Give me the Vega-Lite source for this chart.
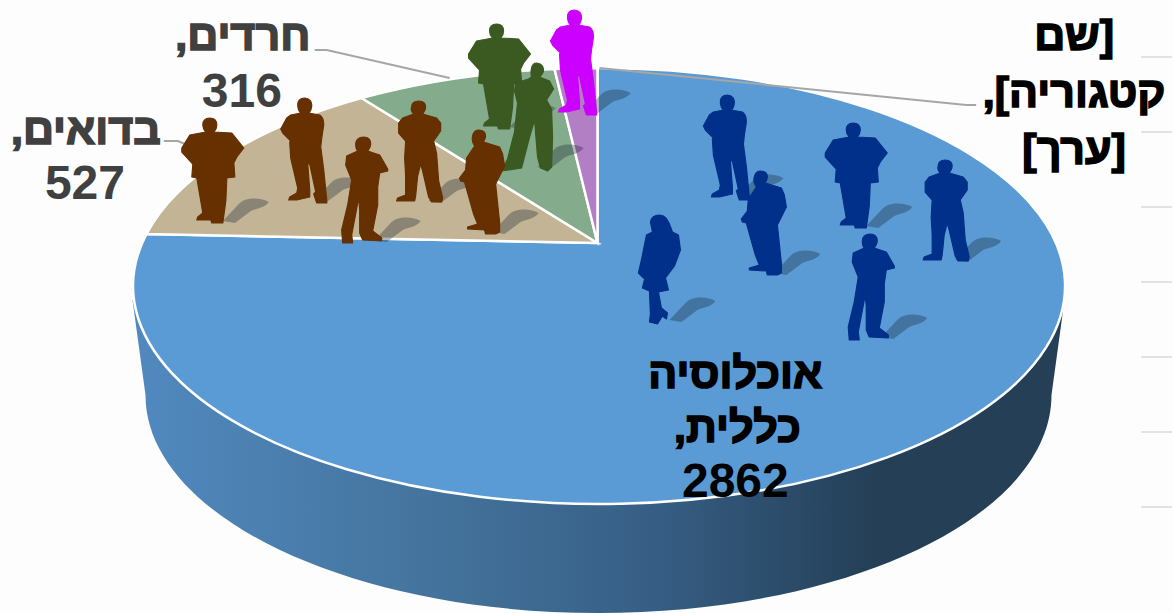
{
"$schema":"https://vega.github.io/schema/vega-lite/v6.json",
"width":1173,"height":613,
"autosize":{"type":"fit","contains":"padding"},
"padding":0,
"background":"#fdfdfd",
"config":{"view":{"stroke":null}},
"datasets":{
"slices":[
{"category":"אוכלוסיה כללית","value":2862,"x":598,"y":243},
{"category":"בדואים","value":527,"x":598,"y":243},
{"category":"חרדים","value":316,"x":598,"y":243},
{"category":"אחר","value":100,"x":598,"y":243}
],
"people":[
{"group":"blue","pose":"A","x":728,"y":147},
{"group":"blue","pose":"C","x":765,"y":223},
{"group":"blue","pose":"B","x":857,"y":176},
{"group":"blue","pose":"A2","x":946,"y":210},
{"group":"blue","pose":"A3","x":872,"y":287},
{"group":"blue","pose":"W","x":660,"y":270},
{"group":"brown","pose":"B","x":213,"y":171},
{"group":"brown","pose":"A","x":305,"y":150},
{"group":"brown","pose":"A3","x":365,"y":190},
{"group":"brown","pose":"A2","x":419,"y":151},
{"group":"green","pose":"B","x":500,"y":77},
{"group":"green","pose":"W2","x":528,"y":117},
{"group":"brown","pose":"C","x":483,"y":182},
{"group":"magenta","pose":"A","x":575,"y":62}
],
"leaders":[
{"s":"a","o":1,"x":600,"y":68},{"s":"a","o":2,"x":967,"y":105},{"s":"a","o":3,"x":977,"y":105},
{"s":"b","o":1,"x":315,"y":50},{"s":"b","o":2,"x":327,"y":50},{"s":"b","o":3,"x":450,"y":78},
{"s":"c","o":1,"x":164,"y":141},{"s":"c","o":2,"x":178,"y":141},{"s":"c","o":3,"x":190,"y":146}
],
"grid":[
{"x":1142,"x2":1173,"y":57},{"x":1142,"x2":1173,"y":132},{"x":1142,"x2":1173,"y":207},{"x":1142,"x2":1173,"y":282},{"x":1142,"x2":1173,"y":357},{"x":1142,"x2":1173,"y":432},{"x":1142,"x2":1173,"y":507}
],
"labels":[
{"t":"\u200f[שם\u200f","x":1075,"y":50,"tone":"black","script":"he"},
{"t":"\u200fקטגוריה],\u200f","x":1075,"y":107,"tone":"black","script":"he"},
{"t":"\u200f[ערך]\u200f","x":1075,"y":164,"tone":"black","script":"he"},
{"t":"\u200fחרדים,\u200f","x":243,"y":50,"tone":"grey","script":"he"},
{"t":"316","x":242,"y":107,"tone":"grey","script":"num"},
{"t":"\u200fבדואים,\u200f","x":86,"y":144,"tone":"grey","script":"he"},
{"t":"527","x":85,"y":199,"tone":"grey","script":"num"},
{"t":"\u200fאוכלוסיה\u200f","x":736,"y":388,"tone":"black","script":"he"},
{"t":"\u200fכללית,\u200f","x":738,"y":442,"tone":"black","script":"he"},
{"t":"2862","x":736,"y":497,"tone":"black","script":"num"}
]
},
"encoding":{
"x":{"field":"x","type":"quantitative","scale":{"domain":[0,1173],"nice":false,"zero":false},"axis":null},
"y":{"field":"y","type":"quantitative","scale":{"domain":[0,613],"reverse":true,"nice":false,"zero":false},"axis":null}
},
"layer":[
{"data":{"name":"grid"},"mark":{"type":"rule","color":"#d9d9d9","strokeWidth":1.5},
 "encoding":{"x2":{"field":"x2"}}},
{"data":{"name":"slices"},"transform":[{"filter":"datum.value==2862"}],
 "mark":{"type":"point","filled":true,"opacity":1,"size":4,"strokeWidth":0,
 "shape":"M-465,57 L-452,152 A453,218 0 0 0 454,152 L467,57 Z",
 "color":{"gradient":"linear","x1":0,"x2":1,"y1":0,"y2":0,"stops":[{"offset":0,"color":"#5189bf"},{"offset":0.3,"color":"#45759f"},{"offset":0.55,"color":"#375f86"},{"offset":0.8,"color":"#243f56"},{"offset":1,"color":"#243f56"}]}}},
{"data":{"name":"slices"},
 "mark":{"type":"point","filled":true,"opacity":1,"size":4,"stroke":"#ffffff","strokeWidth":2.5},
 "encoding":{
  "shape":{"field":"category","type":"nominal","legend":null,"scale":{"domain":["אוכלוסיה כללית","בדואים","חרדים","אחר"],"range":[
   "M0,0 L0,-175 A466,218 0 1 1 -451,-9 Z",
   "M0,0 L-451,-9 A466,218 0 0 1 -236,-145 Z",
   "M0,0 L-236,-145 A466,218 0 0 1 -43,-174 Z",
   "M0,0 L-43,-174 A466,218 0 0 1 0,-175 Z"]}},
  "color":{"field":"category","type":"nominal","legend":null,"scale":{"domain":["אוכלוסיה כללית","בדואים","חרדים","אחר"],"range":["#5b9bd5","#c3b496","#84ac8c","#b27fc4"]}}
 }},
{"data":{"name":"people"},
 "mark":{"type":"point","filled":true,"size":4,"fill":"#14202e","fillOpacity":0.32,"opacity":1,"strokeWidth":0,
 "shape":"M10,50 L26,33 C32,26 48,26 56,31 C52,37 44,37 38,40 L22,52 Z"}},
{"data":{"name":"leaders"},"mark":{"type":"line","color":"#a6a6a6","strokeWidth":2},
 "encoding":{"detail":{"field":"s"},"order":{"field":"o"}}},
{"data":{"name":"people"},
 "mark":{"type":"point","filled":true,"opacity":1,"size":4,"strokeWidth":1.2,"strokeJoin":"round"},
 "encoding":{
  "shape":{"field":"pose","type":"nominal","legend":null,"scale":{"domain":["A","A2","A3","B","C","W","W2"],"range":[
   "M0,-52 C5,-52 7,-48 7,-45 C7,-41 5,-38 4,-37 L15,-35 C18,-33 19,-30 19,-25 L17,-12 L16,-3 L19,20 L22,50 L22,53 L12,53 L9,44 L11,42 L5,14 L3,14 L5,40 L5,47 L-8,50 L-16,50 L-15,47 L-8,43 L-7,38 L-14,8 L-15,-8 L-14,-9 L-22,-17 L-24,-21 L-18,-32 L-14,-35 L-4,-37 C-6,-39 -7,-42 -7,-45 C-7,-49 -5,-52 0,-52 Z",
   "M0,-50 C5,-50 7,-47 7,-44 C7,-41 5,-39 4,-37 L18,-33 L22,-28 L22,-20 L15,-10 L18,3 L20,30 L24,47 L23,51 L13,51 L10,46 L4,20 L2,13 L-1,25 L-3,45 L-4,50 L-22,50 L-21,47 L-13,44 L-13,25 L-14,7 L-13,-10 L-20,-18 L-20,-28 L-16,-33 L-5,-37 C-7,-39 -8,-41 -7,-44 C-7,-47 -5,-50 0,-50 Z",
   "M-1,-53 C4,-53 6,-50 6,-46 C6,-43 4,-41 3,-39 L15,-35 L23,-21 L23,-19 L15,-17 L13,-3 L13,15 L8,41 L17,48 L17,51 L-2,50 L-5,43 L-5,20 L-6,8 L-13,45 L-12,53 L-22,53 L-23,40 L-17,15 L-13,-10 L-19,-25 L-18,-34 L-7,-39 C-9,-41 -9,-43 -9,-46 C-9,-50 -6,-53 -1,-53 Z",
   "M-3,-53 C2,-53 4,-50 4,-46 C4,-42 2,-40 1,-39 L19,-38 L31,-23 L24,-14 L21,-8 L22,6 L14,7 L13,30 L10,52 L-1,52 L-2,49 L-16,49 L-15,46 L-10,42 L-16,7 L-21,6 L-20,-7 L-31,-19 L-31,-23 L-23,-36 L-7,-39 C-9,-41 -10,-43 -10,-46 C-10,-50 -8,-53 -3,-53 Z",
   "M-4,-52 C1,-52 3,-49 3,-46 C3,-43 1,-41 1,-40 L17,-35 L20,-28 L22,-16 L14,0 L13,2 L17,40 L17,50 L13,52 L3,52 L2,48 L-15,47 L-15,45 L-5,42 L-9,32 L-18,0 L-22,-1 L-23,-4 L-17,-12 L-16,-24 L-8,-36 L-10,-40 C-11,-44 -10,-52 -4,-52 Z",
   "M0,-55 C6,-55 8,-50 10,-46 L13,-38 L19,-35 L21,-20 L15,-4 L6,8 L9,20 L-1,22 L2,38 L8,43 L7,49 L3,46 L-2,54 L-10,52 L-9,44 L-10,21 L-17,18 L-14,6 L-16,8 L-21,3 L-18,-10 L-13,-35 L-7,-38 L-9,-48 C-8,-53 -5,-55 0,-55 Z",
   "M9,-54 C14,-54 16,-50 16,-47 C16,-44 14,-42 12,-40 L22,-36 L26,-28 L19,-17 L24,-8 L25,20 L24,50 L20,54 L13,51 L10,40 L7,3 L2,20 L-6,51 L-26,54 L-20,42 L-13,15 L-10,-14 L-13,-26 L-12,-34 L1,-38 L4,-40 C3,-44 3,-54 9,-54 Z"]}},
  "fill":{"field":"group","type":"nominal","legend":null,"scale":{"domain":["blue","brown","green","magenta"],"range":["#00308a","#663000","#3a5a22","#cc00ff"]}},
  "stroke":{"field":"group","type":"nominal","legend":null,"scale":{"domain":["blue","brown","green","magenta"],"range":["#00308a","#663000","#3a5a22","#cc00ff"]}}
 }},
{"data":{"name":"labels"},"transform":[{"filter":"datum.script=='he'"}],
 "mark":{"type":"text","font":"Liberation Sans","fontWeight":"bold","fontSize":43,"align":"center","baseline":"alphabetic","strokeWidth":1.6},
 "encoding":{
  "text":{"field":"t"},
  "fill":{"field":"tone","type":"nominal","legend":null,"scale":{"domain":["black","grey"],"range":["#000000","#404040"]}},
  "stroke":{"field":"tone","type":"nominal","legend":null,"scale":{"domain":["black","grey"],"range":["#000000","#404040"]}}
 }},
{"data":{"name":"labels"},"transform":[{"filter":"datum.script=='num'"}],
 "mark":{"type":"text","font":"Liberation Sans","fontWeight":"bold","fontSize":48,"align":"center","baseline":"alphabetic"},
 "encoding":{
  "text":{"field":"t"},
  "fill":{"field":"tone","type":"nominal","legend":null,"scale":{"domain":["black","grey"],"range":["#000000","#404040"]}}
 }}
],
"resolve":{"scale":{"color":"independent","shape":"independent","fill":"independent","stroke":"independent"}}
}
